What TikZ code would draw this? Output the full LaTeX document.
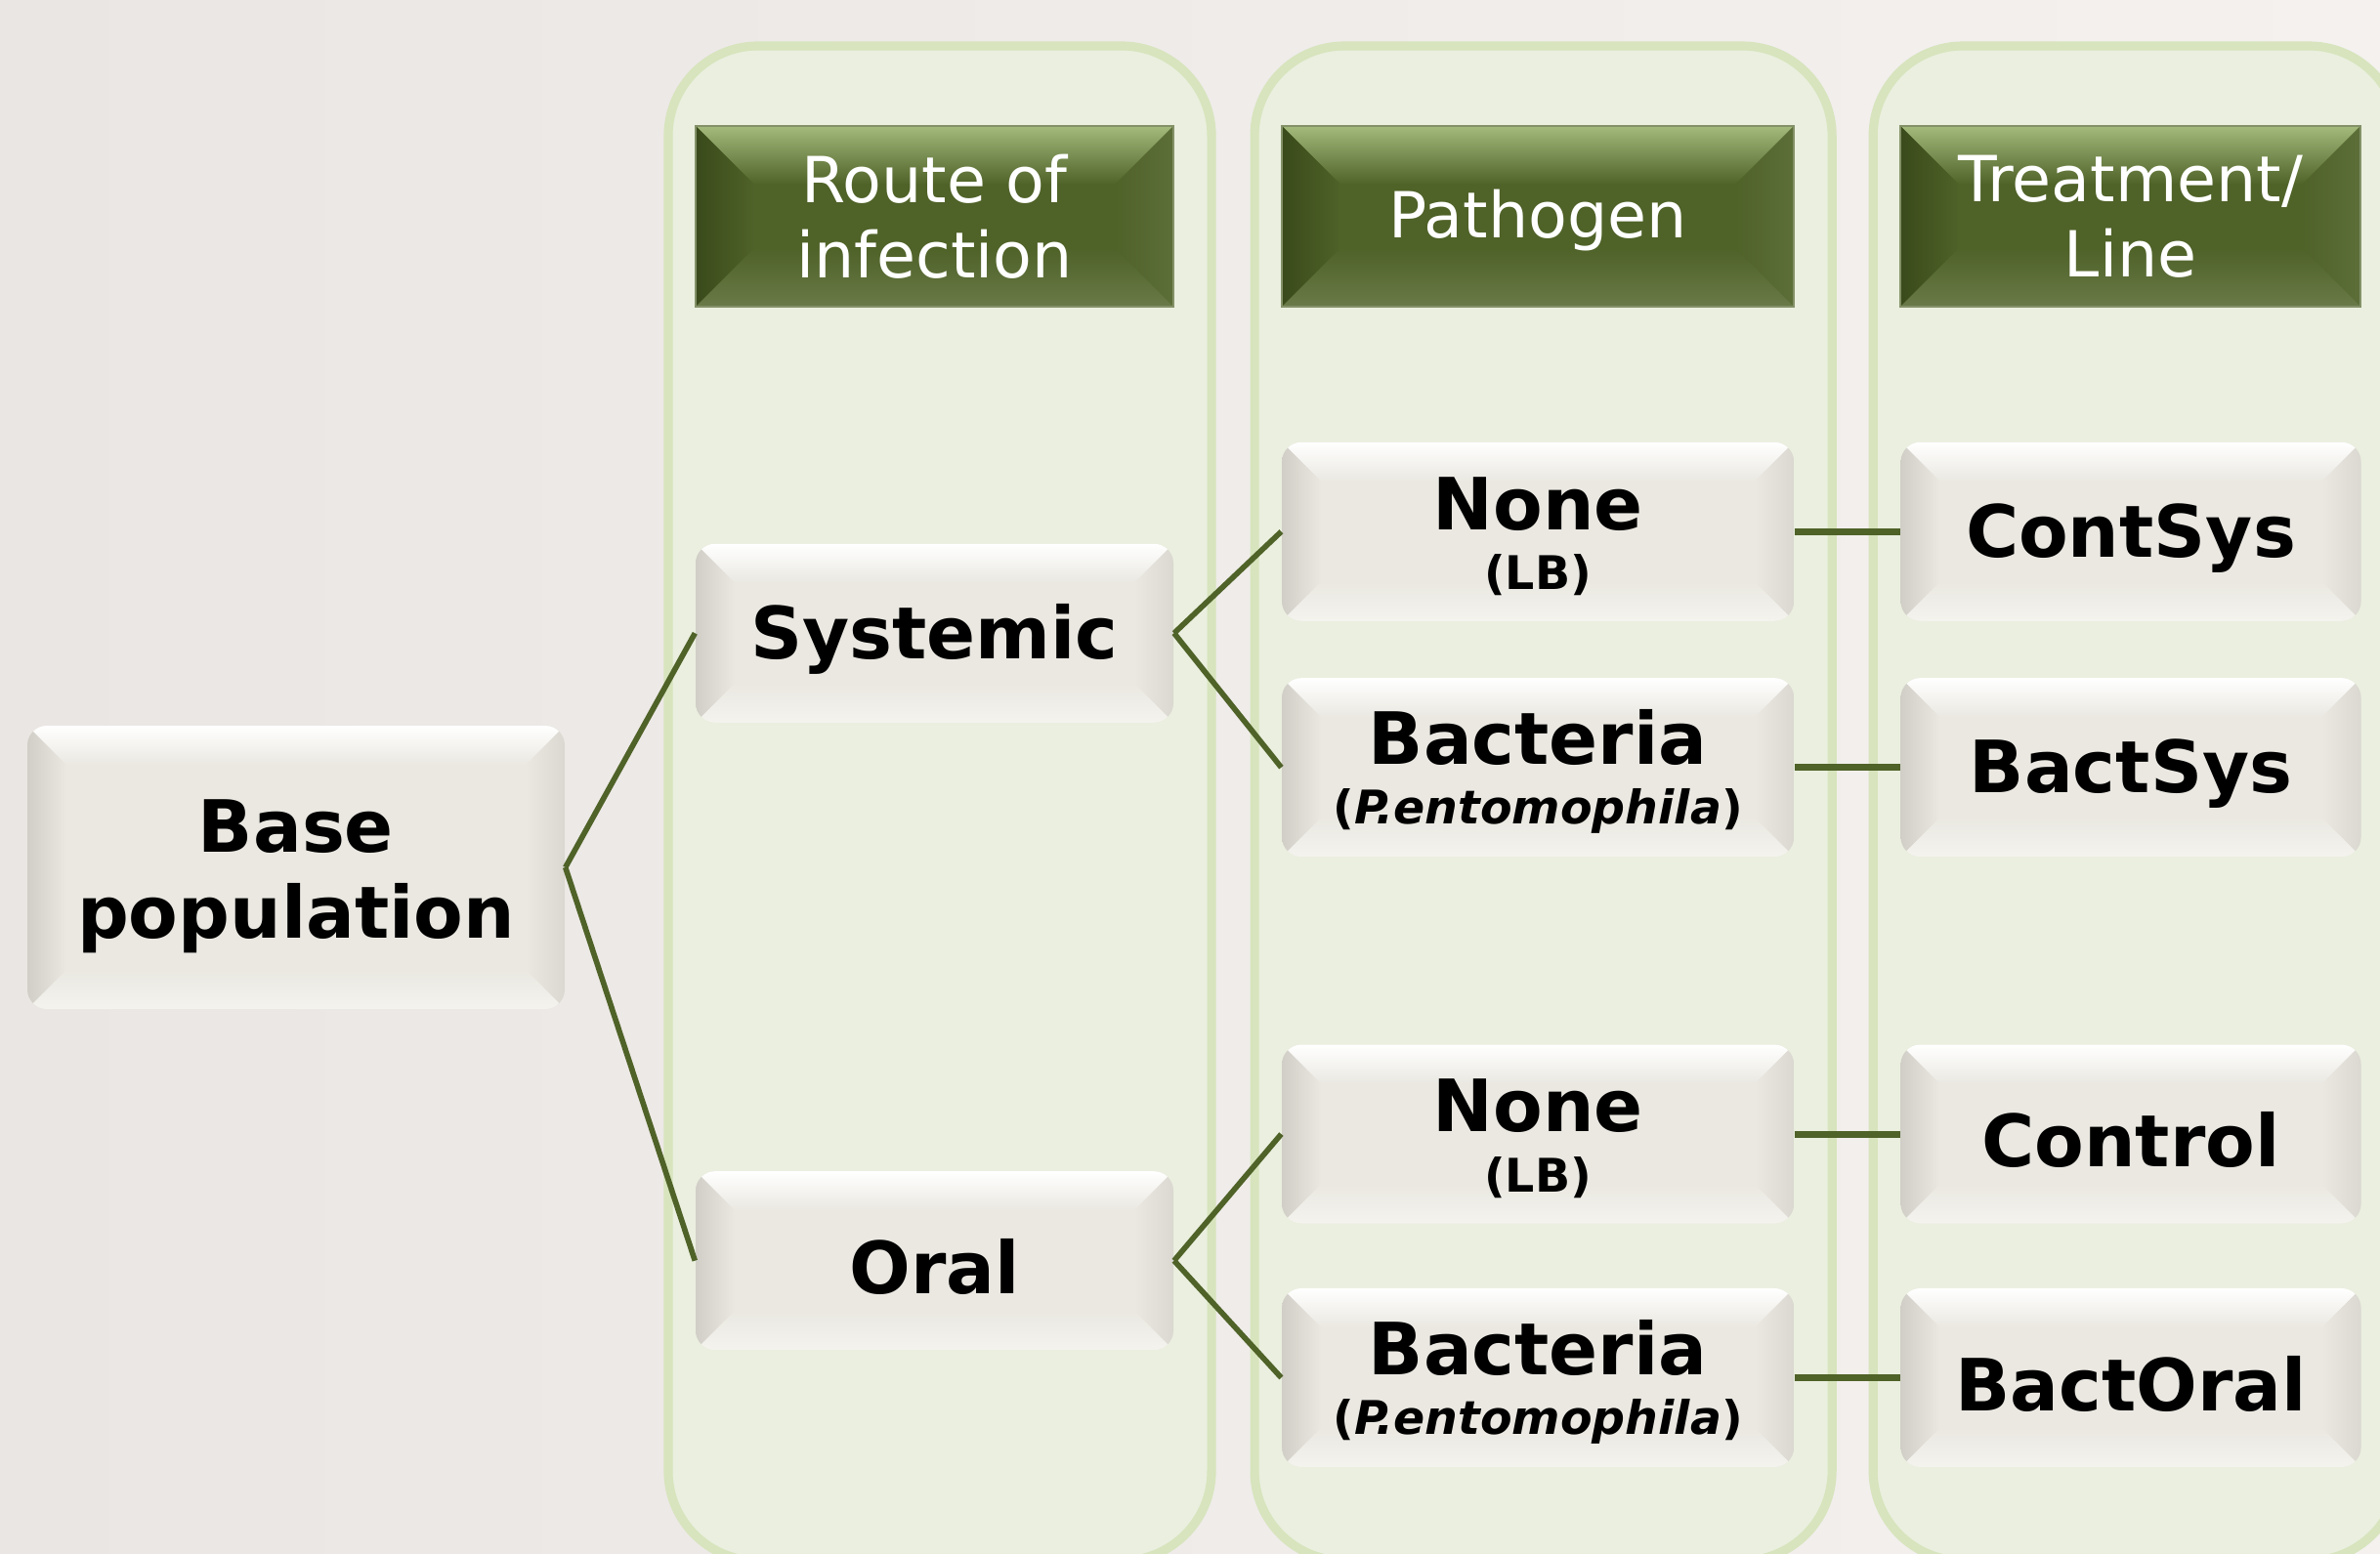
\documentclass[tikz,border=0pt]{standalone}
\usepackage{fontspec}
\setmainfont{DejaVu Sans}
\usepackage{tikz}
\usetikzlibrary{positioning,calc,backgrounds}
\definecolor{olivedark}{HTML}{4F6228}
\definecolor{olivelight}{HTML}{A3BA7C}
\definecolor{oliveshade}{HTML}{3A4A1B}
\definecolor{panelfill}{HTML}{EAEFDF}
\definecolor{panelborder}{HTML}{D7E4BD}
\definecolor{cardfill}{HTML}{EAE8E1}
\definecolor{cardshade}{HTML}{D0CEC6}
\definecolor{cardright}{HTML}{DAD8D0}
\definecolor{cardbot}{HTML}{F4F3EE}
\definecolor{slidebg}{HTML}{EAE6E3}
\definecolor{slidebgright}{HTML}{F4F1EF}
% bevel: inset, fill, top, left, right, bottom
\newcommand{\bevelbox}[6]{%
  \path[sharp corners] (path picture bounding box.north west) coordinate (bnw)
    (path picture bounding box.north east) coordinate (bne)
    (path picture bounding box.south west) coordinate (bsw)
    (path picture bounding box.south east) coordinate (bse);
  \shade[sharp corners, top color=#3, bottom color=#2] (bnw) -- (bne) -- ($(bne)+(-#1,-#1)$) -- ($(bnw)+(#1,-#1)$) -- cycle;
  \shade[sharp corners, left color=#4, right color=#2] (bnw) -- ($(bnw)+(#1,-#1)$) -- ($(bsw)+(#1,#1)$) -- (bsw) -- cycle;
  \shade[sharp corners, left color=#2, right color=#5] (bne) -- ($(bne)+(-#1,-#1)$) -- ($(bse)+(-#1,#1)$) -- (bse) -- cycle;
  \shade[sharp corners, top color=#2, bottom color=#6] (bsw) -- ($(bsw)+(#1,#1)$) -- ($(bse)+(-#1,#1)$) -- (bse) -- cycle;
}
\newcommand{\sub}[1]{\\[-7.5pt]{\fontsize{13.5}{15}\selectfont #1}}

\begin{document}
\begin{tikzpicture}[
  card/.style={
    rounded corners=0.2cm,
    fill=cardfill,
    inner sep=0pt,
    minimum height=1.83cm,
    align=center,
    font=\fontsize{21}{25}\selectfont\bfseries,
    execute at begin node={\rule{0pt}{19.5pt}},
    path picture={\bevelbox{0.4}{cardfill}{white}{cardshade}{cardright}{cardbot}}
  },
  hdr/.style={
    fill=olivedark,
    draw=olivedark!70!white,
    line width=0.6pt,
    inner sep=0pt,
    minimum height=1.85cm,
    align=center,
    text=white,
    font=\fontsize{18.5}{22}\selectfont,
    execute at begin node={\rule{0pt}{16.6pt}},
    path picture={\bevelbox{0.6}{olivedark}{olivelight}{oliveshade}{olivedark!92!white}{olivedark!85!white}}
  },
  panel/.style={draw=panelborder, fill=panelfill, line width=2.6pt, rounded corners=0.92cm},
  link/.style={draw=olivedark, line width=1.6pt},
  tie/.style={draw=olivedark, line width=2pt}
]
  \useasboundingbox (0,0) rectangle (24.36,-15.91);

  % Column headers
  \node[hdr, minimum width=4.89cm] (hroute) at (9.565,-2.215) {Route of\\infection};
  \node[hdr, minimum width=5.24cm, right=1.09cm of hroute] (hpath) {Pathogen};
  \node[hdr, minimum width=4.71cm, right=1.07cm of hpath] (htreat) {Treatment/\\Line};

  % Base population and routes
  \node[card, minimum width=5.5cm, minimum height=2.9cm] (base) at (3.03,-8.88) {\rule{0pt}{20.5pt}Base\\population};
  \node[card, minimum width=4.89cm, below=2.41cm of hroute] (sys) {Systemic};
  \node[card, minimum width=4.89cm, below=4.58cm of sys] (oral) {Oral};

  % Pathogen column
  \node[card, minimum width=5.24cm, below=1.37cm of hpath] (none1) {\rule{0pt}{18pt}None\sub{(LB)}};
  \node[card, minimum width=5.24cm, below=0.57cm of none1] (bact1) {\rule{0pt}{18.5pt}Bacteria\sub{(\textit{P.entomophila})}};
  \node[card, minimum width=5.24cm, below=1.91cm of bact1] (none2) {\rule{0pt}{18pt}None\sub{(LB)}};
  \node[card, minimum width=5.24cm, below=0.65cm of none2] (bact2) {\rule{0pt}{18.5pt}Bacteria\sub{(\textit{P.entomophila})}};

  % Treatment / line column
  \node[card, minimum width=4.71cm, right=1.08cm of none1] (contsys) {ContSys};
  \node[card, minimum width=4.71cm, right=1.08cm of bact1] (bactsys) {BactSys};
  \node[card, minimum width=4.71cm, right=1.08cm of none2] (control) {Control};
  \node[card, minimum width=4.71cm, right=1.08cm of bact2] (bactoral) {BactOral};

  % Slide background and column panels
  \coordinate (ptop) at (0,-0.47);
  \coordinate (pbot) at (0,-15.98);
  \begin{scope}[on background layer]
    \fill[left color=slidebg, right color=slidebgright] (0,0) rectangle (24.36,-15.91);
    \draw[panel] ($(hroute.west |- ptop)+(-0.27,0)$) rectangle ($(hroute.east |- pbot)+(0.38,0)$);
    \draw[panel] ($(hpath.west |- ptop)+(-0.27,0)$) rectangle ($(hpath.east |- pbot)+(0.38,0)$);
    \draw[panel] ($(htreat.west |- ptop)+(-0.27,0)$) rectangle ($(htreat.east |- pbot)+(0.38,0)$);
  \end{scope}

  % Tree connectors
  \draw[link] (base.east) -- (sys.west);
  \draw[link] (base.east) -- (oral.west);
  \draw[link] (sys.east) -- (none1.west);
  \draw[link] (sys.east) -- (bact1.west);
  \draw[link] (oral.east) -- (none2.west);
  \draw[link] (oral.east) -- (bact2.west);
  \draw[tie] (none1.east) -- (contsys.west);
  \draw[tie] (bact1.east) -- (bactsys.west);
  \draw[tie] (none2.east) -- (control.west);
  \draw[tie] (bact2.east) -- (bactoral.west);

\end{tikzpicture}
\end{document}
